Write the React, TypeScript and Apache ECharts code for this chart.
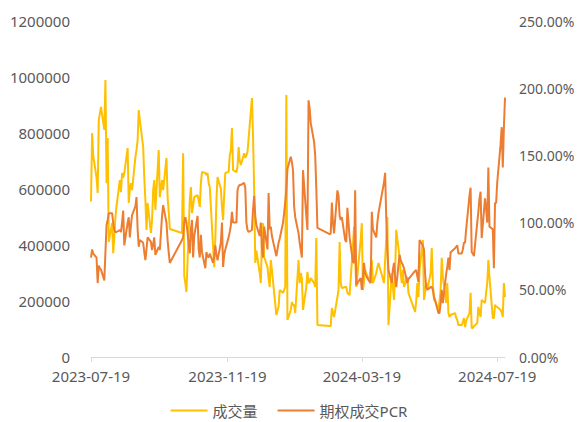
import React, { useEffect, useRef } from "react";
import * as echarts from "echarts";

const tradingDays: string[] = [
  "2023-07-19","2023-07-20","2023-07-21","2023-07-24","2023-07-25","2023-07-26","2023-07-27","2023-07-28","2023-07-31",
  "2023-08-01","2023-08-02","2023-08-03","2023-08-04","2023-08-07","2023-08-08","2023-08-09","2023-08-10","2023-08-11","2023-08-14","2023-08-15","2023-08-16","2023-08-17","2023-08-18","2023-08-21","2023-08-22","2023-08-23","2023-08-24","2023-08-25","2023-08-28","2023-08-29","2023-08-30","2023-08-31",
  "2023-09-01","2023-09-04","2023-09-05","2023-09-06","2023-09-07","2023-09-08","2023-09-11","2023-09-12","2023-09-13","2023-09-14","2023-09-15","2023-09-18","2023-09-19","2023-09-20","2023-09-21","2023-09-22","2023-09-25","2023-09-26","2023-09-27","2023-09-28",
  "2023-10-09","2023-10-10","2023-10-11","2023-10-12","2023-10-13","2023-10-16","2023-10-17","2023-10-18","2023-10-19","2023-10-20","2023-10-23","2023-10-24","2023-10-25","2023-10-26","2023-10-27","2023-10-30","2023-10-31",
  "2023-11-01","2023-11-02","2023-11-03","2023-11-06","2023-11-07","2023-11-08","2023-11-09","2023-11-10","2023-11-13","2023-11-14","2023-11-15","2023-11-16","2023-11-17","2023-11-20","2023-11-21","2023-11-22","2023-11-23","2023-11-24","2023-11-27","2023-11-28","2023-11-29","2023-11-30",
  "2023-12-01","2023-12-04","2023-12-05","2023-12-06","2023-12-07","2023-12-08","2023-12-11","2023-12-12","2023-12-13","2023-12-14","2023-12-15","2023-12-18","2023-12-19","2023-12-20","2023-12-21","2023-12-22","2023-12-25","2023-12-26","2023-12-27","2023-12-28","2023-12-29",
  "2024-01-02","2024-01-03","2024-01-04","2024-01-05","2024-01-08","2024-01-09","2024-01-10","2024-01-11","2024-01-12","2024-01-15","2024-01-16","2024-01-17","2024-01-18","2024-01-19","2024-01-22","2024-01-23","2024-01-24","2024-01-25","2024-01-26","2024-01-29","2024-01-30","2024-01-31",
  "2024-02-01","2024-02-02","2024-02-05","2024-02-06","2024-02-07","2024-02-08","2024-02-19","2024-02-20","2024-02-21","2024-02-22","2024-02-23","2024-02-26","2024-02-27","2024-02-28","2024-02-29",
  "2024-03-01","2024-03-04","2024-03-05","2024-03-06","2024-03-07","2024-03-08","2024-03-11","2024-03-12","2024-03-13","2024-03-14","2024-03-15","2024-03-18","2024-03-19","2024-03-20","2024-03-21","2024-03-22","2024-03-25","2024-03-26","2024-03-27","2024-03-28","2024-03-29",
  "2024-04-01","2024-04-02","2024-04-03","2024-04-08","2024-04-09","2024-04-10","2024-04-11","2024-04-12","2024-04-15","2024-04-16","2024-04-17","2024-04-18","2024-04-19","2024-04-22","2024-04-23","2024-04-24","2024-04-25","2024-04-26","2024-04-29","2024-04-30",
  "2024-05-06","2024-05-07","2024-05-08","2024-05-09","2024-05-10","2024-05-13","2024-05-14","2024-05-15","2024-05-16","2024-05-17","2024-05-20","2024-05-21","2024-05-22","2024-05-23","2024-05-24","2024-05-27","2024-05-28","2024-05-29","2024-05-30","2024-05-31",
  "2024-06-03","2024-06-04","2024-06-05","2024-06-06","2024-06-07","2024-06-11","2024-06-12","2024-06-13","2024-06-14","2024-06-17","2024-06-18","2024-06-19","2024-06-20","2024-06-21","2024-06-24","2024-06-25","2024-06-26","2024-06-27","2024-06-28",
  "2024-07-01","2024-07-02","2024-07-03","2024-07-04","2024-07-05","2024-07-08","2024-07-09","2024-07-10","2024-07-11","2024-07-12","2024-07-15","2024-07-16","2024-07-17","2024-07-18","2024-07-19","2024-07-22","2024-07-23","2024-07-24","2024-07-25","2024-07-26",
];

// 成交量
const volume: number[] = [
  555000,800000,720000,640000,586000,846000,870000,893000,811000,
  989000,621000,782000,411000,478000,371000,430000,500000,540000,632000,589000,657000,640000,657000,746000,550000,600000,621000,596000,714000,740000,775000,882000,
  846000,750000,640000,561000,454000,550000,443000,489000,596000,632000,525000,739000,571000,600000,632000,596000,711000,571000,520000,457000,
  443000,728000,290000,264000,232000,560000,607000,514000,540000,571000,578000,560000,536000,620000,661000,657000,650000,
  657000,620000,607000,393000,321000,420000,560000,643000,600000,536000,489000,580000,657000,661000,720000,739000,818000,668000,660000,680000,750000,700000,
  686000,728000,711000,720000,732000,780000,925000,786000,600000,336000,380000,300000,264000,420000,478000,357000,321000,280000,250000,346000,311000,
  150000,165000,179000,239000,229000,240000,250000,936000,132000,168000,196000,186000,186000,157000,346000,264000,300000,280000,168000,250000,304000,264000,
  270000,282000,264000,250000,425000,114000,111000,111000,175000,160000,143000,214000,239000,411000,264000,
  246000,250000,250000,229000,225000,221000,400000,464000,350000,250000,290000,420000,478000,239000,270000,311000,275000,282000,320000,346000,264000,
  300000,320000,336000,264000,346000,420000,500000,114000,300000,250000,204000,300000,454000,357000,300000,264000,311000,250000,286000,229000,
  161000,200000,264000,214000,311000,418000,204000,230000,264000,240000,300000,389000,264000,204000,200000,168000,200000,239000,354000,286000,
  193000,264000,157000,143000,150000,157000,140000,132000,114000,114000,125000,139000,107000,130000,157000,229000,104000,104000,110000,
  121000,179000,160000,143000,204000,193000,230000,264000,346000,286000,139000,139000,186000,180000,179000,168000,160000,143000,264000,214000,
];

// 期权成交PCR (%)
const pcr: number[] = [
  74,80,77,74,55,68,66,65,57,
  78,98,102,107,107,100,94.5,93,93,94.5,93,100,109,83,100,104,89,98,105.6,112,119,95,82,
  87,85,78,72,80,89,85.6,79.6,84,89,76,82,79.6,92,105,113,100,87,78,70,
  87,89,100,104,100,77,95,102,74,90,105,80,74,91,78,66,78,
  75,74,77,70,75,83,76,72,85,100,67,76,80,89,93,98,108,100,100,124,127,128,
  128,129.5,126,100,94.5,93,94.5,110,120,105,98,90,100,80,74,97,80,122,95,97,90,
  75,80,85,88,100,107,115,125,140,149,145,139,112,104,92,85,79.6,74,139,105,94.5,191,
  185,174,160,150,125,96,91.5,92,115,100,92,124,120,105,102,
  104,87,85.6,111,100,89,70.7,70,124,53.6,55,58.8,50,60,70,62,57.3,56,55,108,95,
  89,100,107,130,137,104,80,64.7,55,65,70,59.5,52,76,72,70,68.4,66,55,58,
  64,64.7,60,55.8,87,83,80,62,52,50,52,52,50,45,42.4,32.7,32.7,40,50,40,
  62,67,74,64.7,78,81,82,83,77,77,80,85,85,95,120,126,78,77,75,
  100,108,118,123,88.5,118,110,100,141,97,95,66,114.6,114.6,130,158,171,141,171,193,
];

const xTickDates: string[] = ["2023-07-19", "2023-11-19", "2024-03-19", "2024-07-19"];
const seriesNames: string[] = ["成交量", "期权成交PCR"];

const FONT = "'Noto Sans', 'Noto Sans CJK SC', sans-serif";
const LABEL_COLOR = "#595959";

function ts(s: string): number {
  const [y, m, d] = s.split("-").map(Number);
  return new Date(y, m - 1, d).getTime();
}
function fmt(t: number): string {
  const d = new Date(t);
  return `${d.getFullYear()}-${String(d.getMonth() + 1).padStart(2, "0")}-${String(d.getDate()).padStart(2, "0")}`;
}

export default function App() {
  const ref = useRef<HTMLDivElement>(null);
  useEffect(() => {
    if (!ref.current) return;
    const chart = echarts.init(ref.current, undefined, { renderer: "svg" });
    const tickTs = xTickDates.map(ts);
    chart.setOption({
      animation: false,
      backgroundColor: "#ffffff",
      textStyle: { fontFamily: FONT },
      grid: { left: 91, right: 73, top: 21, bottom: 65, containLabel: false, outerBoundsMode: "none" },
      legend: {
        data: seriesNames,
        left: "center",
        top: 403,
        padding: 0,
        icon: "rect",
        itemWidth: 37,
        itemHeight: 2,
        itemGap: 20,
        textStyle: { fontSize: 15, color: LABEL_COLOR, fontFamily: FONT },
      },
      xAxis: {
        type: "value",
        min: ts(tradingDays[0]),
        max: ts(tradingDays[tradingDays.length - 1]),
        axisLine: { show: true, onZero: false, lineStyle: { color: "#D9D9D9", width: 1 } },
        axisTick: { show: true, length: 5, lineStyle: { color: "#D9D9D9" }, customValues: tickTs },
        axisLabel: {
          customValues: tickTs,
          formatter: (v: number) => fmt(v),
          color: LABEL_COLOR,
          fontSize: 15,
          margin: 11,
          hideOverlap: false,
        },
        splitLine: { show: false },
      },
      yAxis: [
        {
          type: "value",
          min: 0,
          max: 1200000,
          interval: 200000,
          axisLine: { show: false },
          axisTick: { show: false },
          splitLine: { show: false },
          axisLabel: { formatter: (v: number) => String(v), color: LABEL_COLOR, fontSize: 15, margin: 21 },
        },
        {
          type: "value",
          position: "right",
          min: 0,
          max: 250,
          interval: 50,
          axisLine: { show: false },
          axisTick: { show: false },
          splitLine: { show: false },
          axisLabel: { formatter: (v: number) => v.toFixed(2) + "%", color: LABEL_COLOR, fontSize: 14, margin: 14 },
        },
      ],
      series: [
        {
          name: seriesNames[0],
          type: "line",
          yAxisIndex: 0,
          symbol: "none",
          data: tradingDays.map((d, i) => [ts(d), volume[i]]),
          lineStyle: { width: 2, color: "#FFC000" },
          itemStyle: { color: "#FFC000" },
          z: 2,
        },
        {
          name: seriesNames[1],
          type: "line",
          yAxisIndex: 1,
          symbol: "none",
          data: tradingDays.map((d, i) => [ts(d), pcr[i]]),
          lineStyle: { width: 2, color: "#ED7D31" },
          itemStyle: { color: "#ED7D31" },
          z: 3,
        },
      ],
    });
    return () => chart.dispose();
  }, []);
  return (
    <div
      ref={ref}
      style={{ position: "fixed", left: 0, top: 0, width: 578, height: 422, background: "#fff" }}
    />
  );
}
